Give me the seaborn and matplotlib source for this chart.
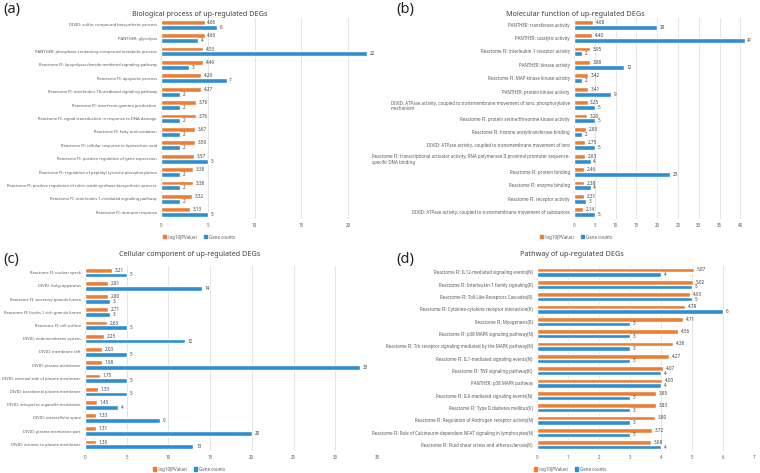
import pandas as pd
import seaborn as sns
import matplotlib.pyplot as plt
from matplotlib.patches import Patch

ORANGE = '#ED7D31'
BLUE = '#2E8FD0'
SERIES = ['-log10(PValue\uff09', 'Gene counts']

# (a) Biological process
bp_terms = [
    'DIVID: sulfur compound biosynthetic process',
    'PANTHER: glycolysis',
    'PANTHER: phosphate-containing compound metabolic process',
    'Reactome FI: lipopolysaccharide-mediated signaling pathway',
    'Reactome FI: apoptotic process',
    'Reactome FI: interleukin-18-mediated signaling pathway',
    'Reactome FI: interferon-gamma production',
    'Reactome FI: signal transduction in response to DNA damage',
    'Reactome FI: fatty acid oxidation',
    'Reactome FI: cellular response to lipoteichoic acid',
    'Reactome FI: positive regulation of gene expression',
    'Reactome FI: regulation of peptidyl-tyrosine phosphorylation',
    'Reactome FI: positive regulation of nitric-oxide synthase biosynthetic process',
    'Reactome FI: interleukin-1-mediated signaling pathway',
    'Reactome FI: immune response',
]
bp_logp = [4.66, 4.66, 4.53, 4.49, 4.29, 4.27, 3.76, 3.76, 3.67, 3.59, 3.57, 3.38, 3.38, 3.32, 3.13]
bp_counts = [6, 4, 22, 3, 7, 2, 2, 2, 2, 2, 5, 2, 2, 2, 5]

# (b) Molecular function
mf_terms = [
    'PANTHER: transferase activity',
    'PANTHER: catalytic activity',
    'Reactome FI: interleukin-1 receptor activity',
    'PANTHER: kinase activity',
    'Reactome FI: MAP kinase kinase activity',
    'PANTHER: protein kinase activity',
    'DIVID: ATPase activity, coupled to transmembrane movement of ions, phosphorylative\nmechanism',
    'Reactome FI: protein serine/threonine kinase activity',
    'Reactome FI: histone acetyltransferase binding',
    'DIVID: ATPase activity, coupled to transmembrane movement of ions',
    'Reactome FI: transcriptional activator activity, RNA polymerase II proximal promoter sequence-\nspecific DNA binding',
    'Reactome FI: protein binding',
    'Reactome FI: enzyme binding',
    'Reactome FI: receptor activity',
    'DIVID: ATPase activity, coupled to transmembrane movement of substances',
]
mf_logp = [4.68, 4.40, 3.95, 3.88, 3.42, 3.41, 3.25, 3.20, 2.83, 2.75, 2.63, 2.46, 2.38, 2.31, 2.14]
mf_counts = [20, 41, 2, 12, 2, 9, 5, 5, 2, 5, 4, 23, 4, 3, 5]

# (c) Cellular component
cc_terms = [
    'Reactome FI: nuclear speck',
    'DIVID: Golgi apparatus',
    'Reactome FI: secretory granule lumen',
    'Reactome FI: ficolin-1-rich granule lumen',
    'Reactome FI: cell surface',
    'DIVID: endomembrane system',
    'DIVID: membrane raft',
    'DIVID: plasma membrane',
    'DIVID: external side of plasma membrane',
    'DIVID: basolateral plasma membrane',
    'DIVID: integral to organelle membrane',
    'DIVID: extracellular space',
    'DIVID: plasma membrane part',
    'DIVID: intrinsic to plasma membrane',
]
cc_logp = [3.21, 2.81, 2.80, 2.71, 2.63, 2.25, 2.03, 1.98, 1.75, 1.53, 1.45, 1.33, 1.31, 1.30]
cc_counts = [5, 14, 3, 3, 5, 12, 5, 33, 5, 5, 4, 9, 20, 13]

# (d) Pathway
pw_terms = [
    'Reactome FI: IL12-mediated signaling events(N)',
    'Reactome FI: Interleukin-1 family signaling(R)',
    'Reactome FI: Toll-Like Receptors Cascades(R)',
    'Reactome FI: Cytokine-cytokine receptor interaction(K)',
    'Reactome FI: Myogenesis(R)',
    'Reactome FI: p38 MAPK signaling pathway(N)',
    'Reactome FI: Trk receptor signaling mediated by the MAPK pathway(N)',
    'Reactome FI: IL1-mediated signaling events(N)',
    'Reactome FI: TNF signaling pathway(K)',
    'PANTHER: p38 MAPK pathway',
    'Reactome FI: IL6-mediated signaling events(N)',
    'Reactome FI: Type II diabetes mellitus(K)',
    'Reactome FI: Regulation of Androgen receptor activity(N)',
    'Reactome FI: Role of Calcineurin-dependent NFAT signaling in lymphocytes(N)',
    'Reactome FI: Fluid shear stress and atherosclerosis(K)',
]
pw_logp = [5.07, 5.02, 4.93, 4.78, 4.71, 4.56, 4.38, 4.27, 4.07, 4.03, 3.85, 3.83, 3.80, 3.72, 3.68]
pw_counts = [4, 5, 5, 6, 3, 3, 3, 3, 4, 4, 3, 3, 3, 3, 4]

sns.set_style('white')
plt.rcParams['font.family'] = ['Noto Sans', 'Noto Sans CJK SC', 'DejaVu Sans']

fig = plt.figure(figsize=(7.6, 4.73), dpi=100)


def long_df(terms, logp, counts):
    return pd.DataFrame({
        'term': terms * 2,
        'series': [SERIES[0]] * len(terms) + [SERIES[1]] * len(terms),
        'value': list(logp) + list(counts),
    })


def draw_panel(rect, terms, logp, counts, xmax, ticks, title, title_xy, letter_xy, letter, legend_xy, ysize=3.2):
    ax = fig.add_axes(rect)
    df = long_df(terms, logp, counts)
    sns.barplot(data=df, y='term', x='value', hue='series', orient='h',
                palette=[ORANGE, BLUE], width=0.72, ax=ax, legend=False,
                saturation=1)
    ax.bar_label(ax.containers[0], fmt='%.2f', padding=2, fontsize=3.3, color='#404040')
    ax.bar_label(ax.containers[1], fmt='%d', padding=2, fontsize=3.3, color='#404040')
    ax.set_xlim(0, xmax)
    ax.set_xticks(ticks)
    ax.set_ylabel('')
    ax.set_xlabel('')
    ax.grid(axis='x', color='#d9d9d9', lw=0.5)
    ax.set_axisbelow(True)
    for s in ax.spines.values():
        s.set_visible(False)
    ax.tick_params(axis='x', length=0, labelsize=3.2, labelcolor='#595959', pad=3)
    ax.tick_params(axis='y', length=0, labelsize=ysize, labelcolor='#595959', pad=3)
    for lab in ax.get_yticklabels():
        lab.set_multialignment('left')
    fig.text(title_xy[0], title_xy[1], title, ha='center', va='center', fontsize=5.2, color='#404040')
    fig.text(letter_xy[0], letter_xy[1], letter, ha='left', va='center', fontsize=10.5, color='#222222')
    handles = [Patch(color=ORANGE), Patch(color=BLUE)]
    fig.legend(handles, SERIES, loc='center', bbox_to_anchor=legend_xy, ncol=2, frameon=False,
               fontsize=3.2, handlelength=0.7, handleheight=0.7, handletextpad=0.4,
               columnspacing=0.8, labelcolor='#595959')
    return ax


W, H = 760, 473


def rect(l, t, r, b):
    return [l / W, 1 - b / H, (r - l) / W, (b - t) / H]


draw_panel(rect(161, 18, 380, 219), bp_terms, bp_logp, bp_counts, 23.4, [0, 5, 10, 15, 20],
           'Biological process of up-regulated DEGs', (200 / W, 1 - 14 / H), (3 / W, 1 - 10 / H), '(a)',
           (199 / W, 1 - 237 / H), ysize=2.95)
draw_panel(rect(574, 18, 757, 219), mf_terms, mf_logp, mf_counts, 44, [0, 5, 10, 15, 20, 25, 30, 35, 40],
           'Molecular function of up-regulated DEGs', (575 / W, 1 - 14 / H), (396 / W, 1 - 10 / H), '(b)',
           (576 / W, 1 - 237 / H))
draw_panel(rect(85, 266, 377, 451), cc_terms, cc_logp, cc_counts, 35, [0, 5, 10, 15, 20, 25, 30, 35],
           'Cellular component of up-regulated DEGs', (190 / W, 1 - 254 / H), (3 / W, 1 - 259 / H), '(c)',
           (189 / W, 1 - 469 / H), ysize=2.85)
draw_panel(rect(537, 266, 754, 451), pw_terms, pw_logp, pw_counts, 7, [0, 1, 2, 3, 4, 5, 6, 7],
           'Pathway of up-regulated DEGs', (572 / W, 1 - 254 / H), (396 / W, 1 - 259 / H), '(d)',
           (570 / W, 1 - 469 / H))

fig.savefig('out.png', dpi=100)
